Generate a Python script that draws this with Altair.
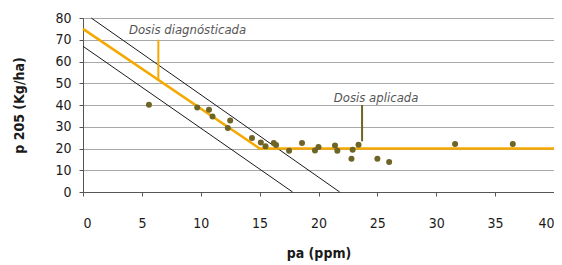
import altair as alt
import pandas as pd

# scatter observations
pa = [5.6, 9.7, 10.7, 11.0, 12.5, 12.3, 14.35, 15.1, 15.5, 16.2, 16.4, 17.5,
      18.6, 19.7, 20.0, 21.4, 21.6, 22.8, 22.9, 23.4, 25.0, 26.0, 31.6, 36.5]
p205 = [40.1, 38.9, 37.8, 34.7, 32.9, 29.4, 24.8, 22.8, 21.0, 22.5, 21.6, 19.0,
        22.5, 19.1, 20.7, 21.4, 19.0, 15.3, 19.4, 21.7, 15.3, 13.8, 22.1, 22.1]

# response curve (orange)
curve_x = [0, 15, 40]
curve_y = [75, 20, 20]
# confidence band lines (black)
upper_x = [0.7, 21.8]
upper_y = [80, 0]
lower_x = [0, 17.8]
lower_y = [67, 0]
# annotation markers
diag_x = [6.4, 6.4]
diag_y = [51.6, 70]
apl_x = [23.7, 23.7]
apl_y = [23.3, 40]
label_text = ["Dosis diagnósticada", "Dosis aplicada"]
label_x = [3.9, 21.3]
label_y = [74.5, 43.3]
x_ticks = [0, 5, 10, 15, 20, 25, 30, 35, 40]
y_ticks = [0, 10, 20, 30, 40, 50, 60, 70, 80]

FONT = "'Liberation Sans Narrow', 'DejaVu Sans Condensed', 'Open Sans', sans-serif"

xs = alt.Scale(domain=[0, 40], nice=False)
ys = alt.Scale(domain=[0, 80], nice=False)

xax = alt.Axis(values=x_ticks, grid=False, tickSize=4,
               labelPadding=20, title="pa (ppm)", titlePadding=16, labelOverlap=False)
yax = alt.Axis(values=y_ticks, grid=True, tickSize=4,
               labelPadding=8, title="p 205 (Kg/ha)", titlePadding=28, labelOverlap=False)

pts = pd.DataFrame({"x": pa, "y": p205})
curve = pd.DataFrame({"x": curve_x, "y": curve_y})
upper = pd.DataFrame({"x": upper_x, "y": upper_y})
lower = pd.DataFrame({"x": lower_x, "y": lower_y})
diag = pd.DataFrame({"x": diag_x, "y": diag_y})
apl = pd.DataFrame({"x": apl_x, "y": apl_y})
labs = pd.DataFrame({"x": label_x, "y": label_y, "t": label_text})

bx = alt.X("x:Q", scale=xs, axis=xax)
by = alt.Y("y:Q", scale=ys, axis=yax)

l_upper = alt.Chart(upper).mark_line(color="#1a1a1a", strokeWidth=1).encode(x=bx, y=by)
l_lower = alt.Chart(lower).mark_line(color="#1a1a1a", strokeWidth=1).encode(x=bx, y=by)
l_curve = alt.Chart(curve).mark_line(color="#f5a800", strokeWidth=2.5).encode(x=bx, y=by)
l_diag = alt.Chart(diag).mark_line(color="#f5a800", strokeWidth=2).encode(x=bx, y=by)
l_apl = alt.Chart(apl).mark_line(color="#6e6426", strokeWidth=2).encode(x=bx, y=by)
l_pts = alt.Chart(pts).mark_circle(color="#6e6426", opacity=1, size=36).encode(x=bx, y=by)
l_txt = alt.Chart(labs).mark_text(align="left", baseline="middle", font=FONT, fontSize=13,
                                  fontStyle="italic", color="#555555").encode(
    x=bx, y=by, text="t:N")

chart = alt.layer(l_upper, l_lower, l_curve, l_diag, l_apl, l_pts, l_txt).properties(
    width=471, height=174,
    autosize=alt.AutoSizeParams(type="none"),
    padding={"left": 75, "top": 10, "right": 0, "bottom": 73},
).configure_view(stroke=None).configure_axis(
    labelFont=FONT, labelFontSize=14, labelColor="#1a1a1a",
    titleFont=FONT, titleFontSize=14, titleFontWeight="bold", titleColor="#1a1a1a",
    domainColor="#555555", tickColor="#555555", gridColor="#a8a8a8", gridWidth=1,
)

chart.save("out.html", embed_options={"renderer": "svg", "actions": False})
